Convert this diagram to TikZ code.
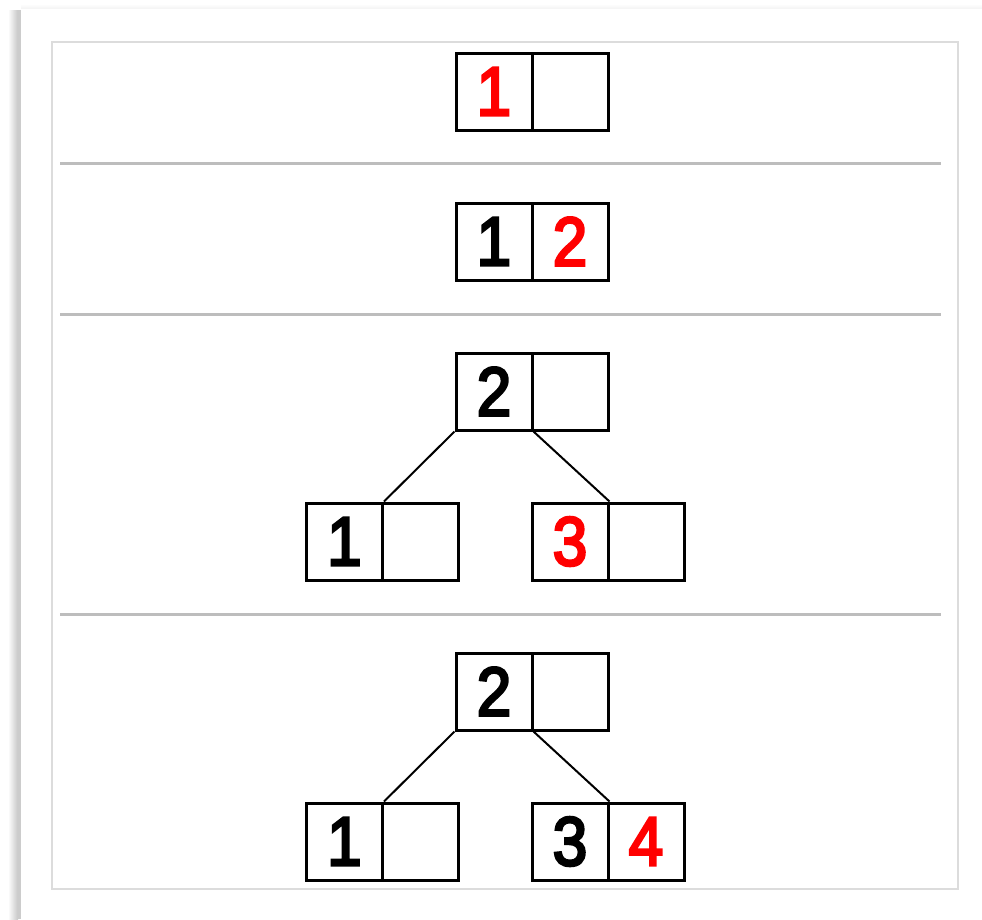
\documentclass[tikz,border=0pt]{standalone}
\usepackage{fontspec}
\setmainfont{Liberation Sans}
\newfontfamily\keyfont[FakeBold=4]{Liberation Sans}
\usetikzlibrary{shadings}
\definecolor{framegray}{HTML}{DCDCDC}
\definecolor{rulegray}{HTML}{BDBDBD}
\definecolor{keyred}{HTML}{FF0000}
\newcommand{\keytext}[1]{\scalebox{0.9}[1]{#1}}
\tikzset{
  cell/.style={draw=black, line width=3pt, fill=white, minimum width=76pt,
    minimum height=77pt, inner sep=0pt, font=\keyfont\fontsize{69}{69}\selectfont},
  newkey/.style={text=keyred},
  link/.style={draw=black, line width=2pt},
  sep/.style={draw=rulegray, line width=3pt},
}
\begin{document}
\begin{tikzpicture}[x=1pt,y=-1pt]
  \useasboundingbox (0,0) rectangle (982,919);
  \fill[white] (0,0) rectangle (982,919);
  % drop shadow of the page
  \shade[left color=white, right color=black!22] (8,10) rectangle (18,919);
  \fill[black!20] (18,10) rectangle (21,919);
  \shade[top color=white, bottom color=black!4] (21,4) rectangle (982,8);
  % panel frame
  \draw[framegray, line width=2pt] (52,42) rectangle (958,889);
  % step separators
  \draw[sep] (60,163) -- (941,163);
  \draw[sep] (60,314) -- (941,314);
  \draw[sep] (60,614) -- (941,614);

  % step 1: insert 1
  \node[cell, newkey] (a1) at (494,91.5) {\keytext{1}};
  \node[cell] (a2) at (570,91.5) {};

  % step 2: insert 2
  \node[cell] (b1) at (494,241.5) {\keytext{1}};
  \node[cell, newkey] (b2) at (570,241.5) {\keytext{2}};

  % step 3: insert 3, the node splits
  \node[cell] (c1) at (494,391.5) {\keytext{2}};
  \node[cell] (c2) at (570,391.5) {};
  \node[cell] (cl1) at (344.5,541.5) {\keytext{1}};
  \node[cell] (cl2) at (420.5,541.5) {};
  \node[cell, newkey] (cr1) at (570,541.5) {\keytext{3}};
  \node[cell] (cr2) at (646,541.5) {};
  \draw[link] (c1.south west) -- (cl1.north east);
  \draw[link] (c1.south east) -- (cr1.north east);

  % step 4: insert 4
  \node[cell] (d1) at (494,691.5) {\keytext{2}};
  \node[cell] (d2) at (570,691.5) {};
  \node[cell] (dl1) at (344.5,841.5) {\keytext{1}};
  \node[cell] (dl2) at (420.5,841.5) {};
  \node[cell] (dr1) at (570,841.5) {\keytext{3}};
  \node[cell, newkey] (dr2) at (646,841.5) {\keytext{4}};
  \draw[link] (d1.south west) -- (dl1.north east);
  \draw[link] (d1.south east) -- (dr1.north east);
\end{tikzpicture}
\end{document}
